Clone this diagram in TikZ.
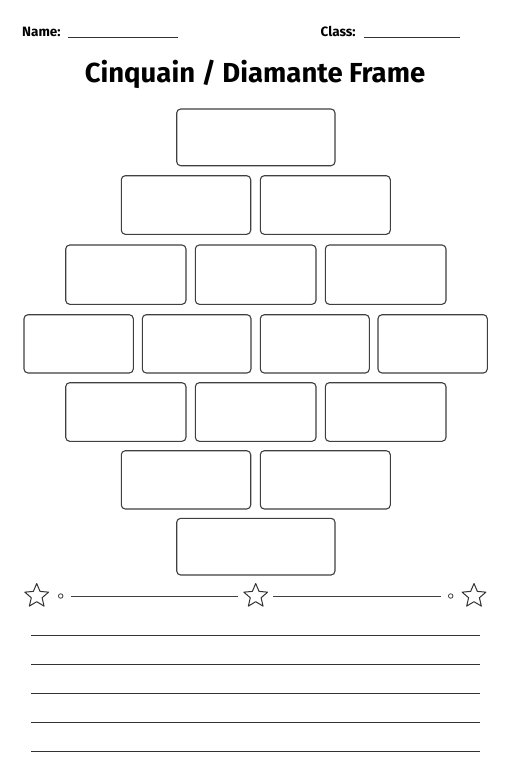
\documentclass[tikz,border=0pt]{standalone}
\usepackage{fontspec}
\setmainfont{Fira Sans}
\usetikzlibrary{shapes.geometric}
\begin{document}
\begin{tikzpicture}[x=1pt,y=-1pt,
  cell/.style={draw=black!75, line width=1.1pt, rounded corners=4pt},
  rule/.style={draw=black!80, line width=1pt},
  orn/.style={draw=black!75, line width=0.9pt},
  staro/.style={star, star points=5, star point ratio=2.2, minimum size=25pt, inner sep=0pt, draw=black!80, line width=1pt, line join=round},
  dot/.style={circle, draw=black!75, line width=0.8pt, minimum size=4.5pt, inner sep=0pt},
  lbl/.style={font=\fontsize{13.5}{15}\selectfont\bfseries, inner sep=0pt, anchor=base west}]
\useasboundingbox (0,0) rectangle (512,768);
\fill[white] (0,0) rectangle (512,768);
% header
\node[lbl] (name) at (22,37) {Name:};
\coordinate (n1) at (68,37.5); \coordinate (n2) at (178,37.5);
\draw[rule] (n1) -- (n2);
\node[lbl] (class) at (320.5,37) {Class:};
\coordinate (c1) at (364,37.5); \coordinate (c2) at (460,37.5);
\draw[rule] (c1) -- (c2);
\node[font=\fontsize{27.5}{30}\selectfont\bfseries, inner sep=0pt, anchor=base] (title) at (255,82.5) {Cinquain / Diamante Frame};
% boxes
\newcommand\cellbox[5]{\draw[cell] (#2,#3) rectangle (#4,#5) node[pos=0.5, inner sep=0pt] (#1) {};}
\cellbox{r1}{176.7}{109}{335}{165.7}
\cellbox{r2a}{121.3}{175.7}{250.7}{234.3}
\cellbox{r2b}{260.3}{175.7}{390.3}{234.3}
\cellbox{r3a}{65.7}{245}{186}{304.3}
\cellbox{r3b}{195.3}{245}{316}{304.3}
\cellbox{r3c}{325.3}{245}{446}{304.3}
\cellbox{r4a}{24}{314.7}{133.3}{373}
\cellbox{r4b}{142.3}{314.7}{251}{373}
\cellbox{r4c}{260.3}{314.7}{369.3}{373}
\cellbox{r4d}{378}{314.7}{487.3}{373}
\cellbox{r5a}{65.7}{382.7}{186}{441.3}
\cellbox{r5b}{195.3}{382.7}{316}{441.3}
\cellbox{r5c}{325.3}{382.7}{446}{441.3}
\cellbox{r6a}{121.3}{450.7}{250.7}{509}
\cellbox{r6b}{260.3}{450.7}{390.3}{509}
\cellbox{r7}{176.7}{518.3}{335}{575}
% ornament
\node[staro] (s1) at (36.7,596) {};
\node[staro] (s2) at (255.7,596) {};
\node[staro] (s3) at (474,596) {};
\node[dot] (d1) at (60.7,596) {};
\node[dot] (d2) at (450.7,596) {};
\coordinate (l1a) at (71,596); \coordinate (l1b) at (238.3,596);
\coordinate (l2a) at (273.3,596); \coordinate (l2b) at (441,596);
\draw[orn] (l1a) -- (l1b);
\draw[orn] (l2a) -- (l2b);
% writing lines
\foreach \yy [count=\i] in {635,664,693,722,751}{
  \coordinate (w\i a) at (31,\yy); \coordinate (w\i b) at (480.3,\yy);
  \draw[rule] (w\i a) -- (w\i b);
}
\end{tikzpicture}
\end{document}
